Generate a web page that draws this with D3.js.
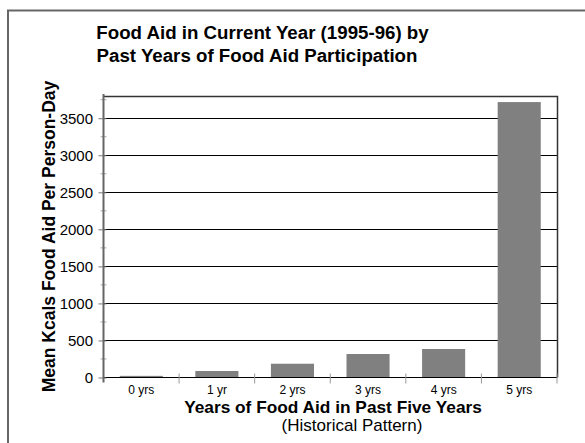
<!DOCTYPE html>
<html><head><meta charset="utf-8">
<script src="https://cdn.jsdelivr.net/npm/d3@7"></script>
<style>body{margin:0;background:#fff}svg{display:block}svg text{font-family:"Liberation Sans",Arial,sans-serif;fill:#000}</style>
</head><body>
<svg id="c" width="585" height="443"></svg>
<script>
const categories = ["0 yrs","1 yr","2 yrs","3 yrs","4 yrs","5 yrs"];
const values = [22, 88, 186, 317, 385, 3718];
const yTicks = [0,500,1000,1500,2000,2500,3000,3500];
const titleLines = ["Food Aid in Current Year (1995-96) by","Past Years of Food Aid Participation"];
const yTitle = "Mean Kcals Food Aid Per Person-Day";
const xTitle = "Years of Food Aid in Past Five Years";
const xSubtitle = "(Historical Pattern)";

const FONT = '"Liberation Sans", Arial, sans-serif';
const svg = d3.select("#c");
const L = 103.5, R = 557, T = 96, B = 377.5;
// outer frame
svg.append("path").attr("d","M8,445 V10.5 H590").attr("fill","none").attr("stroke","#666").attr("stroke-width",2);

const x = d3.scaleBand().domain(categories).range([L,R]).paddingInner(0.43).paddingOuter(0.215);
const xo = d3.scaleBand().domain(categories).range([L,R]);
const y = d3.scaleLinear().domain([0,3800]).range([B,T]);

// gridlines
svg.append("g").selectAll("line").data(yTicks.filter(d=>d>0)).join("line")
  .attr("x1",L).attr("x2",R).attr("y1",d=>Math.round(y(d))+0.5).attr("y2",d=>Math.round(y(d))+0.5)
  .attr("stroke","#000").attr("stroke-width",1);
// plot border top & right
svg.append("path").attr("d",`M${L},${T+0.5} H${R+0.5} V${B}`).attr("fill","none").attr("stroke","#333").attr("stroke-width",1.5);

// bars
svg.append("g").selectAll("rect").data(values).join("rect")
  .attr("x",(d,i)=>x(categories[i])).attr("width",x.bandwidth())
  .attr("y",d=>y(d)).attr("height",d=>B-y(d)).attr("fill","#808080");

// baseline
svg.append("line").attr("x1",L).attr("x2",R).attr("y1",B).attr("y2",B).attr("stroke","#000").attr("stroke-width",1.2);

// y axis
const yAxis = d3.axisLeft(y).tickValues(yTicks).tickSize(4).tickPadding(3).tickFormat(d3.format("d"));
const gy = svg.append("g").attr("transform",`translate(${L},0)`).call(yAxis);
gy.attr("font-family",FONT).attr("font-size",15);
gy.select(".domain").remove();
gy.selectAll(".tick line").attr("stroke","#777").attr("x2",-5).attr("x1",3);
gy.selectAll(".tick text").attr("x",-10.5).attr("fill","#000");
// minor ticks
svg.append("g").selectAll("line").data(d3.range(250,3800,500)).join("line")
  .attr("x1",L-3).attr("x2",L+3).attr("y1",d=>y(d)).attr("y2",d=>y(d)).attr("stroke","#aaa");
svg.append("line").attr("x1",L).attr("x2",L).attr("y1",T-2).attr("y2",B+5).attr("stroke","#666").attr("stroke-width",2);

// x axis
const xAxis = d3.axisBottom(xo).tickSize(0).tickPadding(8);
const gx = svg.append("g").attr("transform",`translate(0,${B})`).call(xAxis);
gx.attr("font-family",FONT).attr("font-size",12);
gx.select(".domain").remove();
gx.selectAll(".tick text").attr("fill","#000");
svg.append("g").selectAll("line").data(categories.slice(1).concat(["__end"])).join("line")
  .attr("x1",d=>d==="__end"?R:xo(d)).attr("x2",d=>d==="__end"?R:xo(d))
  .attr("y1",B-4).attr("y2",B+6).attr("stroke","#999");

// titles
const titleX = [262.5, 257];
svg.append("g").selectAll("text").data(titleLines).join("text")
  .attr("x",(d,i)=>titleX[i]).attr("y",(d,i)=>39+i*23).attr("text-anchor","middle")
  .attr("font-size","18.7px").attr("font-weight","bold").text(d=>d);
svg.append("text").attr("transform",`translate(55,236.5) rotate(-90)`)
  .attr("text-anchor","middle").attr("font-size","17.5px").attr("font-weight","bold").text(yTitle);
svg.append("text").attr("x",333).attr("y",413).attr("text-anchor","middle")
  .attr("font-size","17.3px").attr("font-weight","bold").text(xTitle);
svg.append("text").attr("x",352).attr("y",431).attr("text-anchor","middle")
  .attr("font-size","17px").text(xSubtitle);
</script>
</body></html>
